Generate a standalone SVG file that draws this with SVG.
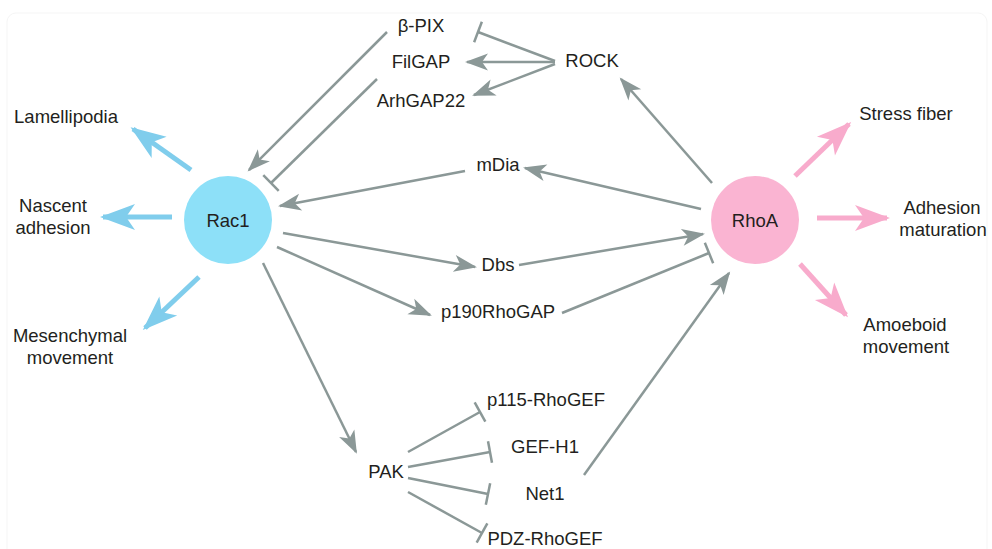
<svg xmlns="http://www.w3.org/2000/svg" width="992" height="549" viewBox="0 0 992 549">
<style>
text{font-family:"Liberation Sans",Arial,sans-serif;font-size:18.5px;fill:#231f20;text-anchor:middle}
.g{fill:none;stroke:#8b9897;stroke-width:2.5}
.b{fill:none;stroke:#80cdec;stroke-width:5}
.p{fill:none;stroke:#f8abcc;stroke-width:5}
</style>
<defs>
<marker id="ag" markerUnits="userSpaceOnUse" markerWidth="40" markerHeight="40" viewBox="-30 -20 40 40" refX="0" refY="0" orient="auto" overflow="visible">
<path d="M2,0 L-21,-8.5 L-15,0 L-21,8.5 z" fill="#8b9897"/>
</marker>
<marker id="tg" markerUnits="userSpaceOnUse" markerWidth="30" markerHeight="30" viewBox="-15 -15 30 30" refX="0" refY="0" orient="auto" overflow="visible">
<path d="M0,-11 L0,11" stroke="#8b9897" stroke-width="2.5" fill="none"/>
</marker>
<marker id="ab" markerUnits="userSpaceOnUse" markerWidth="60" markerHeight="60" viewBox="-40 -30 60 60" refX="0" refY="0" orient="auto" overflow="visible">
<path d="M3,0 L-32,-13 L-23,0 L-32,13 z" fill="#80cdec"/>
</marker>
<marker id="ap" markerUnits="userSpaceOnUse" markerWidth="60" markerHeight="60" viewBox="-40 -30 60 60" refX="0" refY="0" orient="auto" overflow="visible">
<path d="M3,0 L-32,-13 L-23,0 L-32,13 z" fill="#f8abcc"/>
</marker>
</defs>
<rect x="7" y="13" width="980" height="545" rx="9" fill="none" stroke="#f5f5f5" stroke-width="1"/>
<g id="connectors">
<path class="g" d="M387,32 L249,170" marker-end="url(#ag)"/>
<path class="g" d="M377,79 L271,183" marker-end="url(#tg)"/>
<path class="g" d="M555,61 L478,32" marker-end="url(#tg)"/>
<path class="g" d="M555,62 L467,62" marker-end="url(#ag)"/>
<path class="g" d="M555,64 L474,95" marker-end="url(#ag)"/>
<path class="g" d="M712,183 L621,79" marker-end="url(#ag)"/>
<path class="g" d="M701,209 L525,168" marker-end="url(#ag)"/>
<path class="g" d="M465,171 L280,206" marker-end="url(#ag)"/>
<path class="g" d="M283,233 L475,267" marker-end="url(#ag)"/>
<path class="g" d="M519,265 L703,234" marker-end="url(#ag)"/>
<path class="g" d="M277,247 L430,315" marker-end="url(#ag)"/>
<path class="g" d="M562,313 L709,253" marker-end="url(#tg)"/>
<path class="g" d="M263,263 L356,452" marker-end="url(#ag)"/>
<path class="g" d="M408,452 L480,412" marker-end="url(#tg)"/>
<path class="g" d="M408,467 L490,452" marker-end="url(#tg)"/>
<path class="g" d="M408,478 L488,494" marker-end="url(#tg)"/>
<path class="g" d="M408,492 L482,533" marker-end="url(#tg)"/>
<path class="g" d="M584,475 L729,273" marker-end="url(#ag)"/>
<path class="b" d="M191,170 L133,129" marker-end="url(#ab)"/>
<path class="b" d="M172,217 L103,217" marker-end="url(#ab)"/>
<path class="b" d="M199,277 L145,328" marker-end="url(#ab)"/>
<path class="p" d="M795,176 L849,124" marker-end="url(#ap)"/>
<path class="p" d="M817,218 L887,218" marker-end="url(#ap)"/>
<path class="p" d="M800,264 L846,315" marker-end="url(#ap)"/>
</g>
<g id="rac1"><circle cx="228" cy="220" r="44" fill="#8de0f8"/><text x="228" y="227">Rac1</text></g>
<g id="rhoa"><circle cx="755" cy="220" r="44" fill="#fab4d2"/><text x="755" y="227">RhoA</text></g>
<g id="bpix"><text x="421" y="32">β-PIX</text></g>
<g id="filgap"><text x="421" y="68">FilGAP</text></g>
<g id="arhgap22"><text x="421" y="107">ArhGAP22</text></g>
<g id="rock"><text x="592" y="67">ROCK</text></g>
<g id="mdia"><text x="498" y="171">mDia</text></g>
<g id="dbs"><text x="498" y="271">Dbs</text></g>
<g id="p190"><text x="498" y="318">p190RhoGAP</text></g>
<g id="pak"><text x="386" y="478">PAK</text></g>
<g id="p115"><text x="546" y="406">p115-RhoGEF</text></g>
<g id="gefh1"><text x="545" y="453">GEF-H1</text></g>
<g id="net1"><text x="545" y="500">Net1</text></g>
<g id="pdz"><text x="545" y="545">PDZ-RhoGEF</text></g>
<g id="lamellipodia"><text x="66" y="123">Lamellipodia</text></g>
<g id="nascent"><text x="53" y="212">Nascent</text><text x="53" y="234">adhesion</text></g>
<g id="mesenchymal"><text x="70" y="342">Mesenchymal</text><text x="70" y="364">movement</text></g>
<g id="stress"><text x="906" y="120">Stress fiber</text></g>
<g id="adhesionmat"><text x="942" y="214">Adhesion</text><text x="943" y="236">maturation</text></g>
<g id="amoeboid"><text x="905" y="331">Amoeboid</text><text x="906" y="353">movement</text></g>
</svg>
